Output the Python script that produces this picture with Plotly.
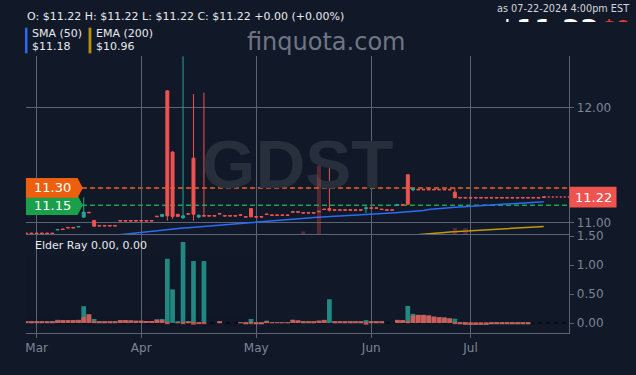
import pandas as pd
import plotly.graph_objects as go

BG = "#111827"
GRID = "#5b6472"
TICK = "#7d8696"
UP = "#26a69a"
DOWN = "#ef5350"
SMA_C = "#2b6cf6"
EMA_C = "#c29a0e"
W, H = 636, 375
DY = 3  # page renders 3px lower than the reference; compensate

# ---------------- data ----------------
holidays = ["2024-03-29", "2024-05-27", "2024-06-19", "2024-07-04"]
dates = [d for d in pd.bdate_range("2024-02-28", "2024-07-22")
         if d.strftime("%Y-%m-%d") not in holidays]

open_ = [10.907, 10.907, 10.907, 10.907, 10.907, 10.907, 10.934, 10.942, 10.956, 10.956,
         10.960, 11.046, 11.088, 11.017, 10.973, 10.973, 10.973, 10.973, 11.016, 11.016,
         11.016, 11.016, 11.016, 11.016, 11.016, 11.054, 11.052, 12.146, 11.613, 11.070,
         11.040, 11.076, 11.559, 11.046, 11.060, 11.059, 11.059, 11.077, 11.059, 11.059,
         11.059, 11.067, 11.050, 11.120, 11.050, 11.050, 11.073, 11.065, 11.065, 11.065,
         11.065, 11.093, 11.093, 11.085, 11.085, 11.085, 11.097, 11.116, 11.120, 11.110,
         11.110, 11.110, 11.110, 11.110, 11.110, 11.120, 11.127, 11.127, 11.116, 11.110,
         11.110, 11.148, 11.154, 11.415, 11.283, 11.288, 11.288, 11.288, 11.288, 11.288,
         11.288, 11.288, 11.263, 11.217, 11.217, 11.217, 11.217, 11.217, 11.217, 11.217,
         11.217, 11.217, 11.217, 11.217, 11.217, 11.217, 11.217, 11.217, 11.217, 11.222]
high = [10.907, 10.907, 10.907, 10.907, 10.907, 10.907, 10.938, 10.942, 10.956, 10.956,
        10.964, 11.218, 11.088, 11.017, 10.973, 10.973, 10.973, 10.973, 11.016, 11.016,
        11.016, 11.016, 11.016, 11.016, 11.016, 11.054, 11.069, 12.150, 11.620, 11.070,
        12.600, 11.076, 12.118, 11.063, 12.130, 11.059, 11.059, 11.077, 11.059, 11.059,
        11.059, 11.067, 11.050, 11.120, 11.050, 11.050, 11.073, 11.065, 11.065, 11.065,
        11.065, 11.093, 11.093, 11.085, 11.085, 11.085, 11.097, 11.116, 11.495, 11.110,
        11.110, 11.110, 11.110, 11.110, 11.110, 11.145, 11.127, 11.127, 11.116, 11.110,
        11.110, 11.155, 11.154, 11.415, 11.292, 11.288, 11.288, 11.288, 11.288, 11.288,
        11.288, 11.288, 11.300, 11.217, 11.217, 11.217, 11.217, 11.217, 11.217, 11.217,
        11.217, 11.217, 11.217, 11.217, 11.217, 11.217, 11.217, 11.217, 11.217, 11.222]
low = [10.903, 10.903, 10.903, 10.903, 10.903, 10.903, 10.934, 10.938, 10.952, 10.952,
       10.960, 11.037, 11.084, 10.966, 10.969, 10.969, 10.969, 10.969, 11.012, 11.012,
       11.012, 11.012, 11.012, 11.012, 11.012, 11.050, 11.050, 11.014, 11.030, 11.050,
       11.030, 11.072, 11.014, 11.037, 11.050, 11.055, 11.055, 11.073, 11.055, 11.055,
       11.055, 11.063, 11.046, 11.048, 11.046, 11.046, 11.069, 11.061, 11.061, 11.061,
       11.061, 11.089, 11.089, 11.081, 11.081, 11.081, 11.093, 11.112, 11.095, 11.106,
       11.106, 11.106, 11.106, 11.106, 11.106, 11.080, 11.123, 11.123, 11.112, 11.106,
       11.106, 11.148, 11.150, 11.157, 11.270, 11.284, 11.284, 11.284, 11.284, 11.284,
       11.284, 11.284, 11.215, 11.213, 11.213, 11.213, 11.213, 11.213, 11.213, 11.213,
       11.213, 11.213, 11.213, 11.213, 11.213, 11.213, 11.213, 11.213, 11.213, 11.218]
close = [10.903, 10.903, 10.903, 10.903, 10.903, 10.903, 10.938, 10.938, 10.952, 10.952,
         10.964, 11.089, 11.084, 10.966, 10.969, 10.969, 10.969, 10.969, 11.012, 11.012,
         11.012, 11.012, 11.012, 11.012, 11.012, 11.050, 11.069, 11.057, 11.052, 11.052,
         11.057, 11.072, 11.071, 11.063, 11.055, 11.055, 11.055, 11.073, 11.055, 11.055,
         11.055, 11.063, 11.046, 11.048, 11.046, 11.046, 11.069, 11.061, 11.061, 11.061,
         11.061, 11.089, 11.089, 11.081, 11.081, 11.081, 11.093, 11.112, 11.106, 11.106,
         11.106, 11.106, 11.106, 11.106, 11.106, 11.126, 11.123, 11.123, 11.112, 11.106,
         11.106, 11.155, 11.150, 11.157, 11.292, 11.284, 11.284, 11.284, 11.284, 11.284,
         11.284, 11.284, 11.215, 11.213, 11.213, 11.213, 11.213, 11.213, 11.213, 11.213,
         11.213, 11.213, 11.213, 11.213, 11.213, 11.213, 11.213, 11.213, 11.213, 11.218]
volume = [0, 0, 0, 0, 0, 0, 0, 0, 0, 0,
          0, 0, 0, 0, 0, 0, 0, 0, 0, 0,
          0, 0, 0, 0, 0, 0, 0, 0, 0, 0,
          0, 0, 0, 0, 0, 0, 0, 0, 0, 0,
          0, 0, 0, 0, 0, 0, 0, 0, 0, 0,
          0, 0, 0, 4, 0, 0, 100, 0, 0, 0,
          0, 0, 0, 0, 0, 0, 0, 0, 0, 0,
          0, 0, 0, 0, 0, 0, 0, 0, 0, 0,
          0, 0, 9, 0, 9, 0, 0, 0, 0, 0,
          0, 0, 0, 0, 0, 0, 0, 0, 0, 0]
sma50 = [None, None, None, None, None, None, None, None, None, None,
         None, None, None, None, None, None, None, 10.888, 10.893, 10.899,
         10.905, 10.910, 10.915, 10.919, 10.922, 10.926, 10.930, 10.935, 10.940, 10.945,
         10.950, 10.953, 10.957, 10.961, 10.965, 10.969, 10.972, 10.976, 10.980, 10.984,
         10.988, 10.991, 10.994, 10.997, 11.001, 11.006, 11.010, 11.013, 11.016, 11.020,
         11.024, 11.028, 11.032, 11.035, 11.039, 11.042, 11.046, 11.050, 11.052, 11.053,
         11.055, 11.057, 11.059, 11.062, 11.065, 11.068, 11.071, 11.074, 11.077, 11.079,
         11.082, 11.085, 11.088, 11.091, 11.096, 11.100, 11.104, 11.112, 11.117, 11.121,
         11.125, 11.128, 11.131, 11.134, 11.137, 11.140, 11.142, 11.145, 11.148, 11.151,
         11.154, 11.158, 11.162, 11.165, 11.168, 11.171, 11.174, 11.177, 11.179, 11.180]
ema200 = [None] * 73 + [10.885, 10.888, 10.891, 10.896, 10.899, 10.903, 10.907,
                        10.912, 10.916, 10.919, 10.922, 10.925, 10.928, 10.930, 10.933, 10.936, 10.939,
                        10.942, 10.945, 10.947, 10.950, 10.953, 10.956, 10.958, 10.960, 10.962, 10.964]
bull = [0.03, 0.03, 0.03, 0.025, 0.02, 0.02, 0.055, 0.05, 0.05, 0.05,
        0.055, 0.29, 0.15, 0.07, 0.02, 0.015, 0.015, 0.015, 0.05, 0.05,
        0.045, 0.04, 0.04, 0.035, 0.035, 0.06, 0.07, 1.11, 0.58, 0.03,
        1.40, 0.03, 1.07, 0.01, 1.07, 0.0, 0.0, 0.02, 0.0, 0.0,
        0.0, 0.01, -0.005, 0.07, -0.01, -0.01, 0.04, 0.01, 0.01, 0.01,
        0.01, 0.055, 0.045, 0.03, 0.03, 0.03, 0.04, 0.055, 0.41, 0.015,
        0.015, 0.015, 0.015, 0.015, 0.015, 0.05, 0.03, 0.03, 0.015, 0.0,
        0.0, 0.055, 0.05, 0.295, 0.158, 0.14, 0.14, 0.13, 0.11, 0.10,
        0.095, 0.08, 0.075, -0.02, -0.03, -0.035, -0.035, -0.035, -0.035, -0.02,
        -0.02, -0.02, -0.02, -0.01, -0.01, -0.01, -0.01, 0.0, 0.0, 0.0]
bear = [0.03, 0.03, 0.03, 0.025, 0.02, 0.02, 0.045, 0.05, 0.05, 0.05,
        0.05, 0.10, 0.15, 0.015, 0.02, 0.015, 0.015, 0.015, 0.05, 0.05,
        0.045, 0.04, 0.04, 0.035, 0.035, 0.06, 0.05, -0.01, 0.0, 0.01,
        -0.02, 0.03, -0.03, -0.01, -0.005, 0.0, 0.0, 0.02, 0.0, 0.0,
        0.0, 0.01, -0.005, -0.01, -0.01, -0.01, 0.02, 0.01, 0.01, 0.01,
        0.01, 0.055, 0.045, 0.03, 0.03, 0.03, 0.04, 0.05, 0.0, 0.015,
        0.015, 0.015, 0.015, 0.015, 0.015, -0.03, 0.03, 0.03, 0.015, 0.0,
        0.0, 0.05, 0.05, 0.03, 0.13, 0.14, 0.14, 0.13, 0.11, 0.10,
        0.095, 0.08, -0.02, -0.02, -0.03, -0.03, -0.03, -0.03, -0.03, -0.02,
        -0.02, -0.02, -0.02, -0.01, -0.01, -0.01, -0.01, 0.0, 0.0, 0.0]

last_price = 11.22
level_hi = 11.30
level_lo = 11.15
price_ticks = [11, 12]
elder_ticks = [0, 0.5, 1.0, 1.5]

# ---------------- geometry helpers (pixel -> paper) ----------------
def px(X):
    return X / W

def py(Y):
    return min(1.0, 1 - (Y - DY) / H)

idx = list(range(len(dates)))
month_ticks = [i for i in idx if i > 0 and dates[i].month != dates[i - 1].month]
month_text = [dates[i].strftime("%b") for i in month_ticks]

X_RANGE = [-0.044, 103.91]
P_RANGE = [10.8968, 12.447]
E_RANGE = [-0.1705, 1.534]
X_DOM = [px(25), px(569.3)]
MAIN_DOM = [py(235.3), py(55)]
LOW_DOM = [py(335.3), py(235.3)]
pp = (P_RANGE[1] - P_RANGE[0]) / (MAIN_DOM[1] - MAIN_DOM[0]) / H  # price per pixel

fig = go.Figure()

# watermark ticker (behind candles)
fig.add_trace(go.Scatter(
    x=[(X_RANGE[0] + X_RANGE[1]) / 2], y=[11.45], mode="text", text=["GDST"],
    textfont=dict(family="Liberation Sans", size=69, color="#272f3d", weight="bold"),
    hoverinfo="skip", showlegend=False, xaxis="x", yaxis="y"))

fig.add_trace(go.Bar(x=idx, y=volume, width=0.8, marker=dict(color="rgba(239,83,80,0.3)", line=dict(width=0)),
                     hoverinfo="skip", showlegend=False, xaxis="x", yaxis="y3"))

fig.add_trace(go.Candlestick(
    x=idx, open=open_, high=high, low=low, close=close,
    increasing=dict(line=dict(color=UP, width=1), fillcolor=UP),
    decreasing=dict(line=dict(color=DOWN, width=1), fillcolor=DOWN),
    whiskerwidth=0, showlegend=False, xaxis="x", yaxis="y"))

fig.add_trace(go.Scatter(x=idx, y=sma50, mode="lines", line=dict(color=SMA_C, width=1.5),
                         showlegend=False, xaxis="x", yaxis="y"))
fig.add_trace(go.Scatter(x=idx, y=ema200, mode="lines", line=dict(color=EMA_C, width=1.5),
                         showlegend=False, xaxis="x", yaxis="y"))

fig.add_trace(go.Bar(x=idx, y=bull, width=0.9, marker=dict(color=UP, line=dict(width=0)), opacity=0.8,
                     showlegend=False, xaxis="x2", yaxis="y2"))
fig.add_trace(go.Bar(x=idx, y=bear, width=0.9, marker=dict(color=DOWN, line=dict(width=0)), opacity=0.85,
                     showlegend=False, xaxis="x2", yaxis="y2"))

# big price header in its own small subplot (pixel units); lower half hidden by a cover shape
fig.add_trace(go.Scatter(x=[498], y=[30.5], mode="text", text=["$11.22"], textposition="middle right",
                         textfont=dict(family="DejaVu Sans", size=26, color="#ffffff", weight="bold"),
                         hoverinfo="skip", showlegend=False, xaxis="x4", yaxis="y4"))
fig.add_trace(go.Scatter(x=[602], y=[27.5], mode="text", text=["$0.00"], textposition="middle right",
                         textfont=dict(family="DejaVu Sans", size=20, color="#e53935", weight="bold"),
                         hoverinfo="skip", showlegend=False, xaxis="x4", yaxis="y4"))

axis_font = dict(family="DejaVu Sans", size=12, color=TICK)

fig.update_layout(
    width=W, height=H, margin=dict(l=0, r=0, t=0, b=0),
    paper_bgcolor=BG, plot_bgcolor=BG, barmode="overlay", boxgap=0.2,
    showlegend=False, font=dict(family="DejaVu Sans", color="#e8eaed"),
    xaxis=dict(domain=X_DOM, range=X_RANGE, anchor="y", tickvals=month_ticks, showticklabels=False,
               showgrid=True, gridcolor=GRID, gridwidth=1, showline=True, linecolor=GRID, linewidth=1,
               ticks="", zeroline=False, rangeslider=dict(visible=False), fixedrange=True),
    xaxis2=dict(domain=X_DOM, range=X_RANGE, anchor="y2", matches="x", tickvals=month_ticks,
                ticktext=month_text, tickfont=axis_font, showgrid=True, gridcolor=GRID, gridwidth=1,
                showline=True, linecolor=GRID, linewidth=1, ticks="outside", ticklen=4, tickcolor=GRID,
                zeroline=False),
    yaxis=dict(domain=MAIN_DOM, range=P_RANGE, anchor="x", side="right", tickvals=price_ticks,
               ticktext=[f"{v:.2f}" for v in price_ticks], tickfont=axis_font, showgrid=True,
               gridcolor=GRID, showline=True, linecolor=GRID, ticks="outside", ticklen=4,
               tickcolor=GRID, zeroline=False),
    yaxis2=dict(domain=LOW_DOM, range=E_RANGE, anchor="x2", side="right", tickvals=elder_ticks,
                ticktext=[f"{v:.2f}" for v in elder_ticks], tickfont=axis_font, showgrid=False,
                showline=True, linecolor=GRID, ticks="outside", ticklen=4, tickcolor=GRID,
                zeroline=False),
    yaxis3=dict(overlaying="y", range=[0, 260], visible=False),
    xaxis4=dict(domain=[px(470), 1], range=[470, W], anchor="y4", visible=False),
    yaxis4=dict(domain=[py(52), 1], range=[52, DY], anchor="x4", visible=False),
)

shapes = []
# cover for the lower half of the big header price
shapes.append(dict(type="rect", xref="paper", yref="paper", x0=px(470), x1=1, y0=py(54), y1=py(20.3),
                   fillcolor=BG, line=dict(width=0), layer="above"))
# level lines
shapes.append(dict(type="line", xref="paper", yref="y", x0=X_DOM[0], x1=X_DOM[1], y0=level_hi, y1=level_hi,
                   line=dict(color="#f0641a", width=1.5, dash="5px,3px"), layer="below"))
shapes.append(dict(type="line", xref="paper", yref="y", x0=X_DOM[0], x1=X_DOM[1], y0=level_lo, y1=level_lo,
                   line=dict(color="#1ea34a", width=1.5, dash="5px,3px"), layer="below"))
shapes.append(dict(type="line", xref="x", yref="y", x0=idx[-1], x1=X_RANGE[1], y0=last_price, y1=last_price,
                   line=dict(color=DOWN, width=1.5, dash="2px,2px"), layer="below"))
shapes.append(dict(type="line", xref="paper", yref="y2", x0=X_DOM[0], x1=X_DOM[1], y0=0, y1=0,
                   line=dict(color="#000000", width=1, dash="4px,4px"), layer="below"))

# left price tags (green first, orange on top)
def tag(yc, color):
    h = 10 * pp
    path = (f"M {px(25)},{yc + h} L {px(76.7)},{yc + h} L {px(82)},{yc} "
            f"L {px(76.7)},{yc - h} L {px(25)},{yc - h} Z")
    return dict(type="path", xref="paper", yref="y", path=path, fillcolor=color,
                line=dict(width=0), layer="above")

shapes.append(tag(level_lo, "#1a9f4b"))
shapes.append(tag(level_hi, "#ec5f0e"))
# right last-price tag
shapes.append(dict(type="rect", xref="paper", yref="y", x0=px(569.3), x1=px(616.5),
                   y0=last_price - 10.5 * pp, y1=last_price + 10.5 * pp,
                   fillcolor=DOWN, line=dict(width=0), layer="above"))
# legend colour bars
shapes.append(dict(type="rect", xref="paper", yref="paper", x0=px(24), x1=px(26.5), y0=py(52), y1=py(26),
                   fillcolor=SMA_C, line=dict(width=0)))
shapes.append(dict(type="rect", xref="paper", yref="paper", x0=px(87.7), x1=px(90.5), y0=py(52), y1=py(26),
                   fillcolor="#b8900c", line=dict(width=0)))
fig.update_layout(shapes=shapes)

ann = []
def text(X, Y, s, size, color="#e8eaed", xanchor="left", family="DejaVu Sans", yref="paper"):
    ann.append(dict(x=px(X), y=(py(Y) if yref == "paper" else Y), xref="paper", yref=yref, text=s,
                    showarrow=False, xanchor=xanchor, yanchor="middle",
                    font=dict(family=family, size=size, color=color)))

text(24, 15, "O: $11.22 H: $11.22 L: $11.22 C: $11.22 +0.00 (+0.00%)", 11)
text(29, 31.5, "SMA (50)", 11)
text(29, 45.5, f"${sma50[-1]:.2f}", 11)
text(93, 31.5, "EMA (200)", 11)
text(93, 45.5, f"${ema200[-1]:.2f}", 11)
text(326, 41, "finquota.com", 24, color="#6e7685", xanchor="center")
text(631, 6.5, "as 07-22-2024 4:00pm EST", 9.7, color="#d4d7dd", xanchor="right")
text(32, 246.5, "Elder Ray 0.00, 0.00", 11)
text(51.5, level_hi, f"{level_hi:.2f}", 13, color="#ffffff", xanchor="center", yref="y")
text(51.5, level_lo, f"{level_lo:.2f}", 13, color="#ffffff", xanchor="center", yref="y")
text(593, last_price, f"{last_price:.2f}", 13, color="#ffffff", xanchor="center", yref="y")
fig.update_layout(annotations=ann)

fig.write_html("out.html")
